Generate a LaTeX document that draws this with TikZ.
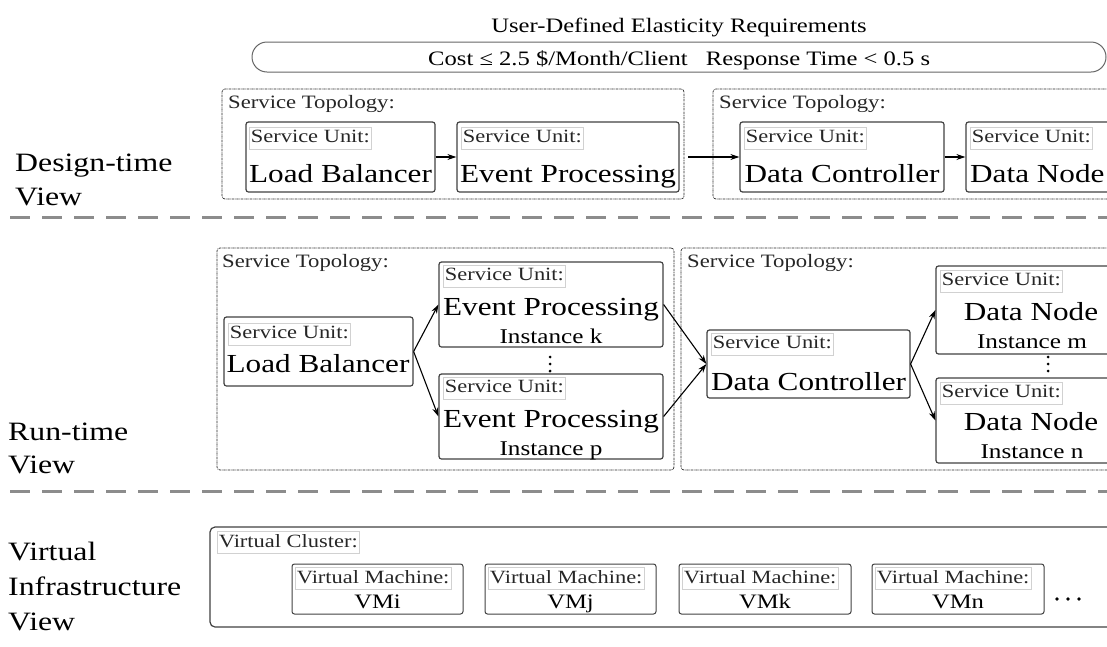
\documentclass[tikz,border=0pt]{standalone}
\usepackage{fontspec}
\setmainfont{Liberation Serif}[FakeStretch=1.2]
\usetikzlibrary{arrows.meta,fit}
\tikzset{
 ubox/.style={draw=black!75, line width=1.2pt, rounded corners=2.5pt, inner sep=0pt},
 topo/.style={draw=black!85, line width=0.7pt, rounded corners=3pt, dash pattern=on 2.2pt off 0.8pt on 0.7pt off 0.8pt, inner sep=0pt},
 pill/.style={draw=black!60, line width=1pt, rounded corners=15pt, inner sep=0pt},
 clus/.style={draw=black!75, line width=1.2pt, rounded corners=5pt, inner sep=0pt},
 sulab/.style={draw=black!18, line width=0.8pt, inner xsep=1.5pt, inner ysep=2.5pt, text height=13pt, text depth=4pt, font=\fontsize{18.7}{18.7}\selectfont, anchor=north west, text=black!85},
 vmlab/.style={sulab, font=\fontsize{18.7}{18.7}\selectfont, text height=14pt, text depth=4pt, inner ysep=2pt},
 big/.style={font=\fontsize{26}{26}\selectfont, anchor=base, inner sep=0pt},
 inst/.style={font=\fontsize{21}{21}\selectfont, anchor=base, inner sep=0pt},
 vmname/.style={font=\fontsize{20.5}{20.5}\selectfont, anchor=base, inner sep=0pt},
 tlab/.style={font=\fontsize{18.9}{18.9}\selectfont, anchor=base west, inner sep=0pt, text=black!85},
 req/.style={font=\fontsize{20.5}{20.5}\selectfont, anchor=base, inner sep=0pt},
 view/.style={font=\fontsize{26.5}{26.5}\selectfont, anchor=base west, inner sep=0pt},
 arr/.style={-{Stealth[length=9pt,width=6pt]}, line width=1.1pt},
 sepline/.style={draw=black!45, line width=3pt, dash pattern=on 20pt off 12pt},
}
\begin{document}
\begin{tikzpicture}[x=1pt,y=-1pt]
\useasboundingbox (0,0) rectangle (1107,646);
\clip (0,0) rectangle (1107,646);

% requirements
\node[req] (reqt) at (679,32) {User-Defined Elasticity Requirements};
\node[pill, fit={(252,42)(1106,72)}] (reqbox) {};
\node[req] (cost) at (558,65) {Cost ≤ 2.5 \$/Month/Client};
\node[req] (resp) at (818,65) {Response Time < 0.5 s};

% view labels
\node[view] (dv1) at (15,171) {Design-time};
\node[view] (dv2) at (15,205) {View};
\node[view] (rv1) at (8,440) {Run-time};
\node[view] (rv2) at (8,473) {View};
\node[view] (vv1) at (8,560) {Virtual};
\node[view] (vv2) at (8,595) {Infrastructure};
\node[view] (vv3) at (8,630) {View};

% separators
\draw[sepline] (10,217) -- (1107,217);
\draw[sepline] (10,491) -- (1107,491);

% ---------- design time ----------
\node[topo, fit={(222,89)(684,199)}] (topo1) {};
\node[topo, fit={(713,89)(1130,199)}] (topo2) {};
\node[tlab] (topo1l) at (228,108) {Service Topology:};
\node[tlab] (topo2l) at (719,108) {Service Topology:};

\node[ubox, fit={(246,122)(435,192)}] (lbD) {};
\node[ubox, fit={(457,122)(679,192)}] (epD) {};
\node[ubox, fit={(740,122)(944,192)}] (dcD) {};
\node[ubox, fit={(966,122)(1130,192)}] (dnD) {};

\node[sulab] (lbDs) at (249,127) {Service Unit:};
\node[sulab] (epDs) at (461,127) {Service Unit:};
\node[sulab] (dcDs) at (744,127) {Service Unit:};
\node[sulab] (dnDs) at (970,127) {Service Unit:};
\node[big] (lbDt) at (340.5,182) {Load Balancer};
\node[big] (epDt) at (568,182) {Event Processing};
\node[big] (dcDt) at (842,182) {Data Controller};
\node[big, anchor=base west] (dnDt) at (970,182) {Data Node};

\draw[arr] (lbD) -- (epD);
\draw[arr] (dcD) -- (dnD.west);
\draw[arr, yshift=-5pt, shorten <=4pt] (topo1.east |- dcD.west) -- (dcD.west);

% ---------- run time ----------
\node[topo, fit={(217,248)(674,470)}] (topoR1) {};
\node[topo, fit={(681,248)(1130,470)}] (topoR2) {};
\node[tlab] (topoR1l) at (222,267) {Service Topology:};
\node[tlab] (topoR2l) at (687,267) {Service Topology:};

\node[ubox, fit={(224,317)(413,386)}] (lbR) {};
\node[ubox, fit={(439,262)(663,347)}] (epk) {};
\node[ubox, fit={(439,374)(663,459)}] (epp) {};
\node[ubox, fit={(707,330)(910,398)}] (dcR) {};
\node[ubox, fit={(936,266)(1130,354)}] (dnm) {};
\node[ubox, fit={(936,378)(1130,463)}] (dnn) {};

\node[sulab] (lbRs) at (228,323) {Service Unit:};
\node[big] (lbRt) at (318,372) {Load Balancer};
\node[sulab] (epks) at (443,265) {Service Unit:};
\node[big] (epkt) at (551,315) {Event Processing};
\node[inst] (epki) at (551,343) {Instance k};
\node[sulab] (epps) at (443,377) {Service Unit:};
\node[big] (eppt) at (551,427) {Event Processing};
\node[inst] (eppi) at (551,455) {Instance p};
\node[sulab] (dcRs) at (711,333) {Service Unit:};
\node[big] (dcRt) at (808.5,390) {Data Controller};
\node[sulab] (dnms) at (940,270) {Service Unit:};
\node[big] (dnmt) at (1031,320) {Data Node};
\node[inst] (dnmi) at (1032,348) {Instance m};
\node[sulab] (dnns) at (940,382) {Service Unit:};
\node[big] (dnnt) at (1031,430) {Data Node};
\node[inst] (dnni) at (1032,458) {Instance n};

\foreach \yy in {357,364,371}{
  \fill (550,\yy) circle[radius=1.5pt];
  \fill (1048,\yy) circle[radius=1.5pt];
}

\draw[arr] (lbR.east) -- (epk.west);
\draw[arr] (lbR.east) -- (epp.west);
\draw[arr] (epk.east) -- (dcR.west);
\draw[arr] (epp.east) -- (dcR.west);
\draw[arr] (dcR.east) -- (dnm.west);
\draw[arr] (dcR.east) -- (dnn.west);

% ---------- virtual infrastructure ----------
\node[clus, fit={(210,527)(1130,627)}] (clus) {};
\node[vmlab] (clusl) at (217,531) {Virtual Cluster:};

\node[ubox, line width=1pt, fit={(292,564)(463,614)}] (vmi) {};
\node[ubox, line width=1pt, fit={(485,564)(656,614)}] (vmj) {};
\node[ubox, line width=1pt, fit={(679,564)(851,614)}] (vmk) {};
\node[ubox, line width=1pt, fit={(872,564)(1044,614)}] (vmn) {};
\node[vmlab] (vmil) at (295,567) {Virtual Machine:};
\node[vmlab] (vmjl) at (488,567) {Virtual Machine:};
\node[vmlab] (vmkl) at (682,567) {Virtual Machine:};
\node[vmlab] (vmnl) at (875,567) {Virtual Machine:};
\node[vmname] (vmit) at (377.5,608) {VMi};
\node[vmname] (vmjt) at (570.5,608) {VMj};
\node[vmname] (vmkt) at (765,608) {VMk};
\node[vmname] (vmnt) at (958,608) {VMn};
\foreach \xx in {1057,1068,1079}{
  \fill (\xx,599) circle[radius=1.8pt];
}
\end{tikzpicture}
\end{document}
